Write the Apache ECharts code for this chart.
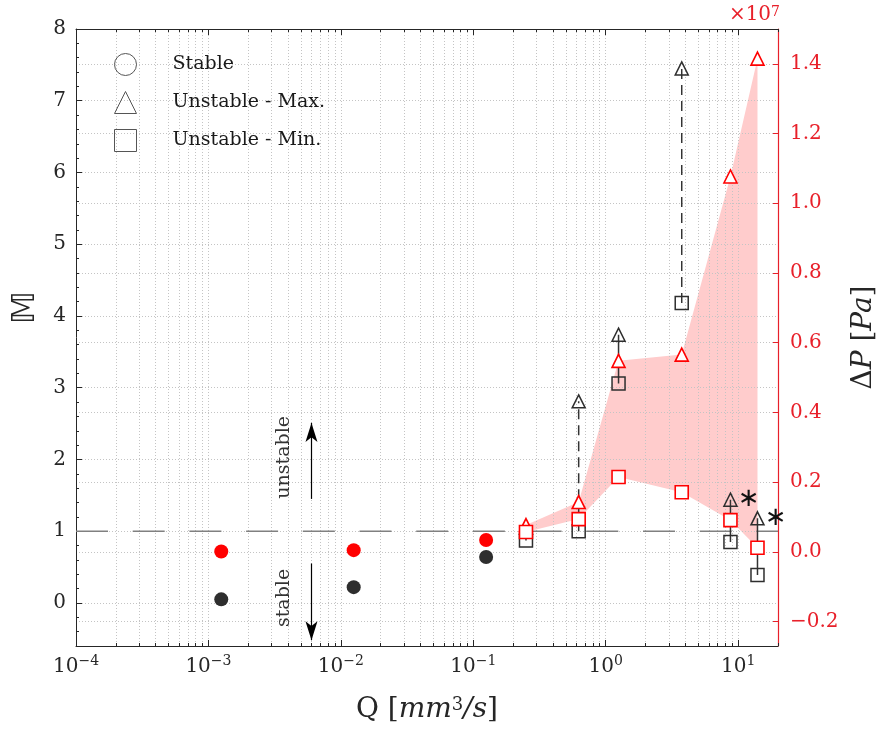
<!DOCTYPE html>
<html><head><meta charset="utf-8">
<script src="https://cdn.jsdelivr.net/npm/echarts@6/dist/echarts.min.js"></script>
<style>html,body{margin:0;padding:0;background:#fff}#c{width:886px;height:729px}</style>
</head><body><div id="c"></div>
<script>
// ---------------- data ----------------
const qStable = [1.25e-3, 1.25e-2, 0.125];
const mStable = [0.05, 0.22, 0.64];
const dpStable = [0.001, 0.005, 0.034];          // x1e7 Pa
const qUnstable = [0.25, 0.625, 1.25, 3.75, 8.75, 14];
const mMax = [1.05, 2.81, 3.74, 7.45, 1.44, 1.18];
const mMin = [0.87, 1.00, 3.06, 4.18, 0.85, 0.39];
const dpMax = [0.077, 0.143, 0.548, 0.566, 1.077, 1.415];  // x1e7 Pa
const dpMin = [0.057, 0.094, 0.215, 0.171, 0.091, 0.012];  // x1e7 Pa
const dashedLinkQ = [0.625, 3.75];
const starredQ = [8.75, 14];
const thresholdM = 1;

const xMin = 1e-4, xMax = 20;
const xTicks = [1e-4, 1e-3, 1e-2, 1e-1, 1, 10];
const xExp = ['\u22124', '\u22123', '\u22122', '\u22121', '0', '1'];
const mTicks = [0, 1, 2, 3, 4, 5, 6, 7, 8];
const dpTicks = [-0.2, 0, 0.2, 0.4, 0.6, 0.8, 1.0, 1.2, 1.4];
const legendNames = ['Stable', 'Unstable - Max.', 'Unstable - Min.'];

const annoText = ['unstable', 'stable'];
const annoQ = [3.75e-3, 3.75e-3];
const annoM = [2.03, 0.07];
const arrowQ = 6e-3;
const arrowUp = [1.45, 2.51];
const arrowDown = [0.55, -0.52];

// ---------------- styling ----------------
const FONT = 'DejaVu Serif';
const INK = '#262626';
const AXRED = '#e8202a';
const MRED = '#ff0000';
const MK = '#2e2e2e';
const GRID = { show: true, lineStyle: { color: '#c4c4c4', width: 1, type: [1, 2] } };

const xMinor = [];
for (let d = -4; d <= 1; d++) for (let k = 2; k <= 9; k++) { const v = k * Math.pow(10, d); if (v <= xMax) xMinor.push(+v.toPrecision(3)); }
const xAll = xTicks.concat(xMinor).sort((a, b) => a - b);

function xLabel(v) {
  let idx = 0, best = 1e9;
  xTicks.forEach((t, i) => { const d = Math.abs(Math.log10(t) - Math.log10(v)); if (d < best) { best = d; idx = i; } });
  return '{b|10}{s|' + xExp[idx] + '}';
}

const baseX = { type: 'log', logBase: 10, min: xMin, max: xMax, gridIndex: 0 };

const xAxes = [
  Object.assign({}, baseX, {
    position: 'bottom',
    axisLine: { show: true, onZero: false, lineStyle: { color: INK, width: 1 } },
    axisTick: { show: true, inside: true, length: 3, customValues: xAll, lineStyle: { color: INK } },
    axisLabel: { show: true, customValues: xTicks, formatter: xLabel, margin: 8,
      rich: { b: { fontFamily: FONT, fontSize: 20, color: INK, lineHeight: 26 },
              s: { fontFamily: FONT, fontSize: 14, color: INK, verticalAlign: 'top', lineHeight: 14 } } },
    splitLine: GRID,
    name: 'Q [{i|mm}{s|3}{i|/s}]', nameLocation: 'middle', nameGap: 50,
    nameTextStyle: { fontFamily: FONT, fontSize: 28, color: INK,
      rich: { i: { fontFamily: FONT, fontSize: 28, fontStyle: 'italic', color: INK },
              s: { fontFamily: FONT, fontSize: 18, color: INK, verticalAlign: 'top', lineHeight: 16 } } }
  }),
  Object.assign({}, baseX, {
    position: 'bottom',
    axisLine: { show: false, onZero: false },
    axisTick: { show: true, inside: true, length: 6, customValues: xTicks, lineStyle: { color: INK } },
    axisLabel: { show: false }, splitLine: { show: false }
  }),
  Object.assign({}, baseX, {
    position: 'top',
    axisLine: { show: true, onZero: false, lineStyle: { color: INK, width: 1 } },
    axisTick: { show: true, inside: true, length: 3, customValues: xAll, lineStyle: { color: INK } },
    axisLabel: { show: false }, splitLine: { show: false }
  }),
  Object.assign({}, baseX, {
    position: 'top',
    axisLine: { show: false, onZero: false },
    axisTick: { show: true, inside: true, length: 6, customValues: xTicks, lineStyle: { color: INK } },
    axisLabel: { show: false }, splitLine: { show: false }
  })
];

const yAxes = [
  { type: 'value', min: -0.6, max: 8, position: 'left',
    axisLine: { show: true, onZero: false, lineStyle: { color: INK, width: 1 } },
    axisTick: { show: true, inside: true, length: 6, customValues: mTicks, lineStyle: { color: INK } },
    axisLabel: { show: true, customValues: mTicks, margin: 10, fontFamily: FONT, fontSize: 20, color: INK },
    splitLine: GRID,
    name: '\u{1D544}', nameLocation: 'middle', nameGap: 34, nameRotate: 90,
    nameTextStyle: { fontFamily: 'DejaVu Sans', fontSize: 32, color: INK, padding: [0, 0, 0, 60] } },
  { type: 'value', min: -0.6, max: 8, interval: 0.2, position: 'left',
    axisLine: { show: false, onZero: false },
    axisTick: { show: true, inside: true, length: 3, lineStyle: { color: INK } },
    axisLabel: { show: false }, splitLine: { show: false } },
  { type: 'value', min: -0.27, max: 1.5, position: 'right',
    axisLine: { show: true, onZero: false, lineStyle: { color: AXRED, width: 1.2 } },
    axisTick: { show: true, inside: true, length: 5, customValues: dpTicks, lineStyle: { color: AXRED } },
    axisLabel: { show: true, customValues: dpTicks, margin: 12, fontFamily: FONT, fontSize: 20, color: AXRED,
      formatter: v => v.toFixed(1).replace('-', '\u2212') },
    splitLine: GRID,
    name: '\u0394{i|P} [{i|Pa}]', nameLocation: 'middle', nameGap: 72, nameRotate: 90,
    nameTextStyle: { fontFamily: FONT, fontSize: 28, color: INK,
      rich: { i: { fontFamily: FONT, fontSize: 28, fontStyle: 'italic', color: INK } } } }
];

const series = [];
// band between max and min pressure (polygon through the axis scales)
series.push({ type: 'custom', name: 'band', yAxisIndex: 2, silent: true, z: -1,
  data: qUnstable.map((q, i) => [q, dpMin[i], dpMax[i]]),
  encode: { x: 0, y: [1, 2] },
  renderItem: function (params, api) {
    if (params.dataIndex !== 0) return null;
    const pts = [];
    for (let i = 0; i < qUnstable.length; i++) pts.push(api.coord([qUnstable[i], dpMax[i]]));
    for (let i = qUnstable.length - 1; i >= 0; i--) pts.push(api.coord([qUnstable[i], dpMin[i]]));
    return { type: 'polygon', shape: { points: pts }, style: { fill: '#ffcccc', stroke: null } };
  } });
// threshold line
series.push({ type: 'line', name: 'threshold', yAxisIndex: 0, symbol: 'none', silent: true, z: 2,
  lineStyle: { color: '#808080', width: 1.5, type: [32, 24.7] }, data: [[xMin, thresholdM], [xMax, thresholdM]] });
// links
qUnstable.forEach((q, i) => {
  const dashed = dashedLinkQ.indexOf(q) >= 0;
  series.push({ type: 'line', name: 'link' + i, yAxisIndex: 0, symbol: 'none', silent: true, z: 3,
    lineStyle: { color: '#333333', width: 1.5, type: dashed ? [10, 6] : 'solid' },
    data: [[q, mMin[i]], [q, mMax[i]]] });
});
// black markers (M)
series.push({ type: 'scatter', name: 'mStable', yAxisIndex: 0, symbol: 'circle', symbolSize: 14, z: 4,
  itemStyle: { color: MK, opacity: 1 }, data: qStable.map((q, i) => [q, mStable[i]]) });
series.push({ type: 'scatter', name: 'mMax', yAxisIndex: 0, symbol: 'triangle', symbolSize: 13, z: 4,
  itemStyle: { color: 'rgba(255,255,255,0)', borderColor: MK, borderWidth: 1.5, opacity: 1 },
  data: qUnstable.map((q, i) => {
    const o = { value: [q, mMax[i]] };
    if (starredQ.indexOf(q) >= 0) o.label = { show: true, formatter: '\u2217', position: 'right', distance: 0,
      fontFamily: 'DejaVu Sans', fontSize: 26, color: '#111' };
    return o;
  }) });
series.push({ type: 'scatter', name: 'mMin', yAxisIndex: 0, symbol: 'rect', symbolSize: 13, z: 4,
  itemStyle: { color: 'rgba(255,255,255,0)', borderColor: MK, borderWidth: 1.5, opacity: 1 },
  data: qUnstable.map((q, i) => [q, mMin[i]]) });
// red markers (dP)
series.push({ type: 'scatter', name: 'dpStable', yAxisIndex: 2, symbol: 'circle', symbolSize: 14, z: 5,
  itemStyle: { color: MRED, opacity: 1 }, data: qStable.map((q, i) => [q, dpStable[i]]) });
series.push({ type: 'scatter', name: 'dpMax', yAxisIndex: 2, symbol: 'triangle', symbolSize: 13, z: 5,
  itemStyle: { color: '#ffffff', borderColor: MRED, borderWidth: 1.6, opacity: 1 },
  data: qUnstable.map((q, i) => [q, dpMax[i]]) });
series.push({ type: 'scatter', name: 'dpMin', yAxisIndex: 2, symbol: 'rect', symbolSize: 13, z: 5,
  itemStyle: { color: '#ffffff', borderColor: MRED, borderWidth: 1.6, opacity: 1 },
  data: qUnstable.map((q, i) => [q, dpMin[i]]) });
// annotations
series.push({ type: 'scatter', name: 'anno', yAxisIndex: 0, symbolSize: 0, silent: true, z: 6,
  label: { show: true, position: 'inside', rotate: 90, fontFamily: FONT, fontSize: 19, color: '#000' },
  data: annoText.map((t, i) => ({ value: [annoQ[i], annoM[i]], label: { formatter: t } })),
  markLine: { silent: true, animation: false, symbol: ['none', 'arrow'], symbolSize: [9, 19],
    lineStyle: { color: '#000', width: 1.2, type: 'solid' }, label: { show: false },
    data: [[{ coord: [arrowQ, arrowUp[0]] }, { coord: [arrowQ, arrowUp[1]] }],
           [{ coord: [arrowQ, arrowDown[0]] }, { coord: [arrowQ, arrowDown[1]] }]] } });
// legend entries
legendNames.forEach(n => series.push({ type: 'scatter', name: n, data: [] }));

const option = {
  animation: false,
  backgroundColor: '#ffffff',
  grid: { left: 76, right: 105, top: 29, bottom: 83, containLabel: false },
  xAxis: xAxes,
  yAxis: yAxes,
  legend: {
    data: legendNames.map((n, i) => ({ name: n, icon: ['circle', 'triangle', 'rect'][i],
      itemStyle: { color: 'rgba(255,255,255,0)', borderColor: '#555', borderWidth: 1, opacity: 1 } })),
    orient: 'vertical', left: 109, top: 48, itemWidth: 22, itemHeight: 22, itemGap: 15,
    selectedMode: false,
    textStyle: { fontFamily: FONT, fontSize: 19, color: '#1a1a1a', padding: [0, 0, 0, 31] }
  },
  graphic: [{ type: 'text', right: 106, top: 5,
    style: { text: '\u00d710{s|7}', fill: AXRED, font: '20px "DejaVu Serif"',
      rich: { s: { fontFamily: FONT, fontSize: 14, fill: AXRED, verticalAlign: 'top', lineHeight: 14 } } } }],
  series: series
};

const chart = echarts.init(document.getElementById('c'), null, { renderer: 'canvas' });
chart.setOption(option);
</script></body></html>
